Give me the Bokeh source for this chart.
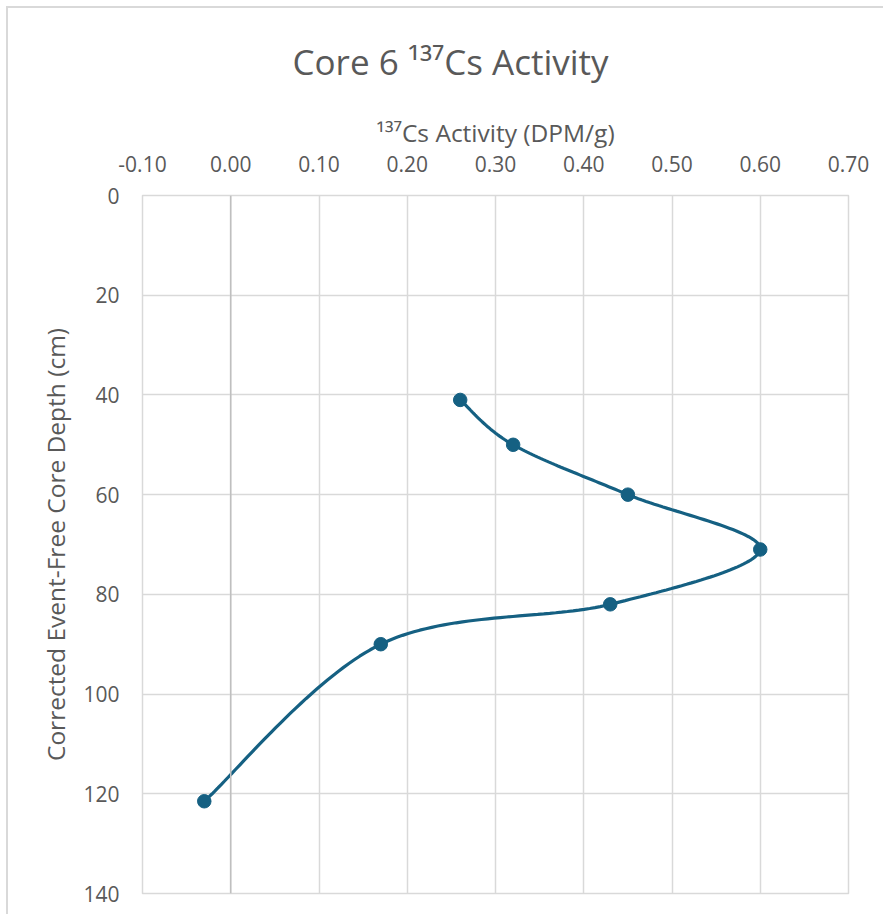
import numpy as np
from bokeh.plotting import figure
from bokeh.models import Range1d, FixedTicker, NumeralTickFormatter, Span, Title
from bokeh.embed import file_html
from bokeh.resources import INLINE

# ---- data ----
activity = [0.26, 0.32, 0.45, 0.60, 0.43, 0.17, -0.03]   # 137Cs activity (DPM/g)
depth = [41, 50, 60, 71, 82, 90, 121.5]                     # corrected depth (cm)
x_ticks = [-0.10, 0.00, 0.10, 0.20, 0.30, 0.40, 0.50, 0.60, 0.70]
y_ticks = [0, 20, 40, 60, 80, 100, 120, 140]
title_text = "Core 6 \u00b9\u00b3\u2077Cs Activity"
x_title = "\u00b9\u00b3\u2077Cs Activity (DPM/g)"
y_title = "Corrected Event-Free Core Depth (cm)"

TEXT = "#595959"
GRID = "#d9d9d9"
LINE = "#156082"
FONT = "Open Sans"

OFF = 8  # canvas origin on the page
W, H = 877, 908
F_LEFT, F_RIGHT, F_TOP, F_BOTTOM = 142, 848, 195, 893  # page pixels
TITLE_LEFT = 292  # page x where the chart title starts
X0, X1 = x_ticks[0], x_ticks[-1]
Y0, Y1 = y_ticks[0], y_ticks[-1]


def smooth(xs, ys, n=40):
    """Excel-style smoothed line: cubic Bezier through the points."""
    pts = np.column_stack([xs, ys]).astype(float)
    ext = np.vstack([pts[0], pts, pts[-1]])
    out = []
    t = np.linspace(0, 1, n)[:, None]
    for i in range(len(pts) - 1):
        p0, p1, p2, p3 = ext[i], ext[i + 1], ext[i + 2], ext[i + 3]
        c1 = p1 + (p2 - p0) / 6.0
        c2 = p2 - (p3 - p1) / 6.0
        seg = (1 - t) ** 3 * p1 + 3 * (1 - t) ** 2 * t * c1 + 3 * (1 - t) * t ** 2 * c2 + t ** 3 * p2
        out.append(seg if i == 0 else seg[1:])
    c = np.vstack(out)
    return c[:, 0], c[:, 1]


p = figure(
    width=W, height=H,
    x_range=Range1d(X0, X1), y_range=Range1d(Y1, Y0),
    x_axis_location="above", y_axis_location="left",
    output_backend="svg", toolbar_location=None,
    min_border_left=F_LEFT - OFF, min_border_right=W - (F_RIGHT - OFF),
    min_border_top=F_TOP - OFF, min_border_bottom=H - (F_BOTTOM - OFF),
)
p.title = Title(text=title_text, align="left", offset=TITLE_LEFT - F_LEFT, standoff=55,
                text_font=FONT, text_font_size="35px", text_font_style="normal",
                text_color=TEXT)
p.styles = {"margin-left": "6px", "margin-top": "6px",
            "border-left": "2px solid #d9d9d9", "border-top": "2px solid #d9d9d9"}
p.background_fill_color = "white"
p.border_fill_color = "white"
p.outline_line_color = GRID
p.outline_line_width = 1.5

# grid
p.xgrid.ticker = FixedTicker(ticks=x_ticks)
p.ygrid.ticker = FixedTicker(ticks=y_ticks)
for g in (p.xgrid, p.ygrid):
    g.grid_line_color = GRID
    g.grid_line_width = 1.5

p.add_layout(Span(location=0, dimension="height", line_color="#bfbfbf", line_width=1.5))

# axes
xa = p.xaxis[0]
xa.ticker = FixedTicker(ticks=x_ticks)
xa.formatter = NumeralTickFormatter(format="0.00")
ya = p.yaxis[0]
ya.ticker = FixedTicker(ticks=y_ticks)
for ax in (xa, ya):
    ax.axis_line_color = None
    ax.major_tick_line_color = None
    ax.minor_tick_line_color = None
    ax.major_tick_in = 0
    ax.major_tick_out = 0
    ax.minor_tick_in = 0
    ax.minor_tick_out = 0
    ax.major_label_text_font = FONT
    ax.major_label_text_font_size = "21px"
    ax.major_label_text_color = TEXT
    ax.axis_label_text_font = FONT
    ax.axis_label_text_font_size = "24.5px"
    ax.axis_label_text_font_style = "normal"
    ax.axis_label_text_color = TEXT
xa.major_label_standoff = 24
ya.major_label_standoff = 23

xa.axis_label = x_title
xa.axis_label_standoff = 4
ya.axis_label = y_title
ya.axis_label_standoff = 8

# data
cx, cy = smooth(activity, depth)
p.line(cx, cy, line_color=LINE, line_width=3.2)
p.scatter(activity, depth, size=13.5, fill_color=LINE, line_color=LINE)

open("out.html", "w").write(file_html(p, INLINE))
